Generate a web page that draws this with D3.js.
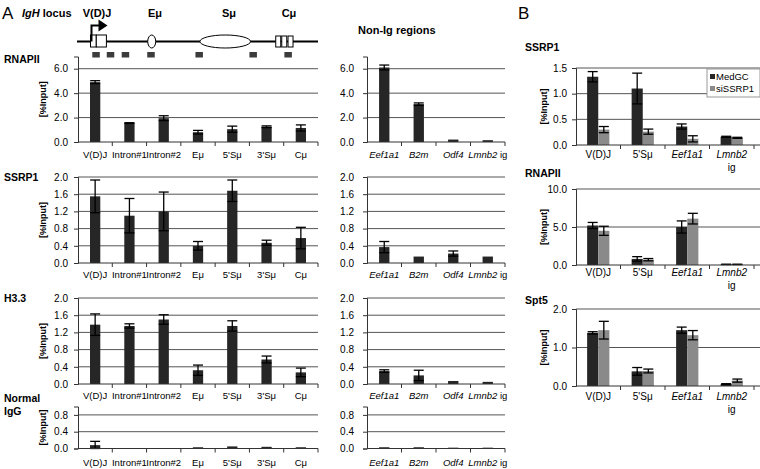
<!DOCTYPE html>
<html>
<head>
<meta charset="utf-8">
<script src="https://cdn.jsdelivr.net/npm/d3@7"></script>
<style>
  body { margin: 0; background: #fff; }
  svg { font-family: "Liberation Sans", Arial, sans-serif; }
</style>
</head>
<body>
<svg id="fig" width="760" height="469"></svg>
<script>
// --------------------
//  data
// --------------------
const locusCats = ["V(D)J", "Intron#1", "Intron#2", "Eμ", "5'Sμ", "3'Sμ", "Cμ"];
const nonIgCats = ["Eef1a1", "B2m", "Odf4", "Lmnb2 ig"];
const bCats = ["V(D)J", "5'Sμ", "Eef1a1", "Lmnb2 ig"];
const italicGenes = ["Eef1a1", "B2m", "Odf4", "Lmnb2"];

// panel A, IgH locus
const rnapiiLocus = [4.9, 1.55, 1.95, 0.8, 1.05, 1.25, 1.15];
const rnapiiLocusErr = [0.12, 0.03, 0.2, 0.15, 0.25, 0.07, 0.25];
const ssrp1Locus = [1.55, 1.1, 1.2, 0.4, 1.68, 0.47, 0.58];
const ssrp1LocusErr = [0.38, 0.4, 0.45, 0.1, 0.25, 0.06, 0.25];
const h33Locus = [1.38, 1.35, 1.5, 0.32, 1.35, 0.57, 0.27];
const h33LocusErr = [0.25, 0.05, 0.11, 0.12, 0.12, 0.08, 0.1];
const iggLocus = [0.08, 0.01, 0.01, 0.03, 0.05, 0.04, 0.03];
const iggLocusErr = [0.09, 0, 0, 0, 0, 0, 0];

// panel A, non-Ig regions
const rnapiiNonIg = [6.1, 3.1, 0.2, 0.15];
const rnapiiNonIgErr = [0.2, 0.1, 0, 0];
const ssrp1NonIg = [0.37, 0.15, 0.22, 0.15];
const ssrp1NonIgErr = [0.13, 0, 0.06, 0];
const h33NonIg = [0.3, 0.2, 0.07, 0.05];
const h33NonIgErr = [0.03, 0.12, 0, 0];
const iggNonIg = [0.03, 0.03, 0.02, 0.02];
const iggNonIgErr = [0, 0, 0, 0];

// panel B (MedGC vs siSSRP1)
const seriesNames = ["MedGC", "siSSRP1"];
const ssrp1Med = [1.33, 1.1, 0.36, 0.16];
const ssrp1MedErr = [0.1, 0.3, 0.05, 0.01];
const ssrp1Si = [0.3, 0.26, 0.12, 0.14];
const ssrp1SiErr = [0.06, 0.05, 0.06, 0.01];
const rnapiiMed = [5.2, 0.8, 5.0, 0.08];
const rnapiiMedErr = [0.4, 0.3, 0.8, 0.02];
const rnapiiSi = [4.5, 0.7, 6.1, 0.08];
const rnapiiSiErr = [0.6, 0.15, 0.7, 0.02];
const spt5Med = [1.38, 0.38, 1.45, 0.05];
const spt5MedErr = [0.03, 0.1, 0.08, 0.01];
const spt5Si = [1.45, 0.39, 1.32, 0.14];
const spt5SiErr = [0.23, 0.05, 0.12, 0.04];

// locus map (arbitrary kb-like coordinates)
const locusSpan = [0, 100];
const vdjBox = [5.6, 12.2];
const emuPos = 31;
const smuRange = [51, 72];
const cmuBoxes = [83.5, 86, 88.6];
const primerPos = [7.8, 13.8, 20, 30.6, 50.6, 73, 87.5];

// --------------------
//  styles
// --------------------
const dark = "#262626";
const light = "#8a8a8a";
const gridColor = "#555";
const axisColor = "#333";

const svg = d3.select("#fig");

// --------------------
//  functions
// --------------------
function catLabel(sel, name, wrap) {
    const parts = name.split(" ");
    sel.append("tspan")
        .attr("font-style", italicGenes.includes(parts[0]) ? "italic" : "normal")
        .text(parts[0]);
    if (parts[1]) {
        const t = sel.append("tspan").attr("font-style", "normal");
        if (wrap) t.attr("x", sel.attr("x")).attr("dy", "1.3em").text(parts[1]);
        else t.text(" " + parts[1]);
    }
}

function drawChart(o) {
    const g = svg.append("g");
    const x = d3.scaleBand().domain(o.cats).range(o.xRange)
        .paddingInner(o.padIn).paddingOuter(o.padOut);
    const y = d3.scaleLinear().domain([0, o.yMax]).range(o.yRange);
    const right = o.gridRight || o.xRange[1];

    // gridlines
    g.selectAll("line.grid")
        .data(o.ticks.filter(t => t > 0))
        .join("line")
        .attr("x1", o.xRange[0]).attr("x2", right)
        .attr("y1", d => y(d)).attr("y2", d => y(d))
        .attr("stroke", gridColor).attr("stroke-width", 1);

    // bars
    const nS = o.series.length;
    const sub = d3.scaleBand().domain(d3.range(nS)).range([0, x.bandwidth()]);
    o.series.forEach((s, si) => {
        g.selectAll(null)
            .data(o.cats)
            .join("rect")
            .attr("x", d => x(d) + sub(si))
            .attr("width", sub.bandwidth())
            .attr("y", (d, i) => y(s.vals[i]))
            .attr("height", (d, i) => y(0) - y(s.vals[i]))
            .attr("fill", s.color);
        // error bars
        const eb = g.selectAll(null)
            .data(o.cats.map((c, i) => ({ c, v: s.vals[i], e: s.errs[i] })).filter(d => d.e > 0))
            .join("g")
            .attr("transform", d => `translate(${x(d.c) + sub(si) + sub.bandwidth() / 2},0)`);
        eb.append("line")
            .attr("y1", d => y(d.v + d.e)).attr("y2", d => y(Math.max(0, d.v - d.e)))
            .attr("stroke", "#000").attr("stroke-width", 1.3);
        [1, -1].forEach(sg => {
            eb.append("line")
                .attr("x1", -o.cap).attr("x2", o.cap)
                .attr("y1", d => y(Math.max(0, d.v + sg * d.e)))
                .attr("y2", d => y(Math.max(0, d.v + sg * d.e)))
                .attr("stroke", "#000").attr("stroke-width", 1.3);
        });
    });

    // y axis
    const yAxis = g.append("g")
        .attr("transform", `translate(${o.xRange[0]},0)`)
        .call(d3.axisLeft(y).tickValues(o.ticks).tickFormat(d3.format(".1f")).tickSize(4).tickPadding(o.tickPad));
    yAxis.select(".domain").attr("stroke", axisColor);
    yAxis.selectAll(".tick line").attr("stroke", axisColor);
    yAxis.selectAll("text").attr("font-size", 10).attr("fill", "#000");

    // x axis line and boundary ticks
    g.append("line")
        .attr("x1", o.xRange[0]).attr("x2", right)
        .attr("y1", y(0)).attr("y2", y(0))
        .attr("stroke", axisColor);
    g.selectAll("line.xt")
        .data(o.cats)
        .join("line")
        .attr("x1", (d, i) => o.xRange[0] + x.step() * (i + 1))
        .attr("x2", (d, i) => o.xRange[0] + x.step() * (i + 1))
        .attr("y1", y(0)).attr("y2", y(0) + 4)
        .attr("stroke", axisColor);

    // category labels
    g.selectAll(null)
        .data(o.cats)
        .join("text")
        .attr("x", d => x(d) + x.bandwidth() / 2)
        .attr("y", o.labelY)
        .attr("text-anchor", "middle")
        .attr("font-size", o.labelSize || 9.5)
        .attr("fill", "#000")
        .each(function(d) { catLabel(d3.select(this), d, o.wrap); });

    // y title
    if (o.yTitleX) {
        svg.append("text")
            .attr("transform", `translate(${o.yTitleX},${(o.yRange[0] + o.yRange[1]) / 2}) rotate(-90)`)
            .attr("text-anchor", "middle")
            .attr("font-size", 9).attr("font-weight", "bold")
            .text("[%Input]");
    }
}

function title(x, y, lines, size) {
    const t = svg.append("text").attr("x", x).attr("y", y)
        .attr("font-size", size || 10.5).attr("font-weight", "bold");
    lines.forEach((l, i) => t.append("tspan").attr("x", x).attr("dy", i ? "1.25em" : 0).text(l));
}

// --------------------
//  locus diagram
// --------------------
const lx = d3.scaleLinear().domain(locusSpan).range([77, 318]);
const lineY = 41.5;
svg.append("line").attr("x1", lx(0)).attr("x2", lx(100)).attr("y1", lineY).attr("y2", lineY)
    .attr("stroke", "#000").attr("stroke-width", 2);
svg.append("rect").attr("x", lx(vdjBox[0])).attr("y", 35).attr("width", lx(vdjBox[0] + 2.4) - lx(vdjBox[0])).attr("height", 12)
    .attr("fill", "#fff").attr("stroke", "#000").attr("stroke-width", 1);
svg.append("rect").attr("x", lx(vdjBox[0] + 2.4)).attr("y", 35).attr("width", lx(vdjBox[1]) - lx(vdjBox[0] + 2.4)).attr("height", 12)
    .attr("fill", "#fff").attr("stroke", "#000").attr("stroke-width", 1);
// transcription start arrow
svg.append("path")
    .attr("d", `M${lx(vdjBox[0]) + 1},${lineY} V25.5 H${lx(vdjBox[0]) + 9}`)
    .attr("fill", "none").attr("stroke", "#000").attr("stroke-width", 2);
svg.append("path")
    .attr("d", `M${lx(vdjBox[0]) + 8},19.5 L${lx(vdjBox[0]) + 17},25.5 L${lx(vdjBox[0]) + 8},31.5 Z`)
    .attr("fill", "#000");
svg.append("ellipse").attr("cx", lx(emuPos)).attr("cy", lineY).attr("rx", 4).attr("ry", 6.5)
    .attr("fill", "#fff").attr("stroke", "#000");
svg.append("ellipse").attr("cx", lx((smuRange[0] + smuRange[1]) / 2)).attr("cy", lineY)
    .attr("rx", (lx(smuRange[1]) - lx(smuRange[0])) / 2).attr("ry", 6.5)
    .attr("fill", "#fff").attr("stroke", "#000");
svg.selectAll(null).data(cmuBoxes).join("rect")
    .attr("x", d => lx(d) - 2.5).attr("y", 36).attr("width", 5).attr("height", 11)
    .attr("fill", "#fff").attr("stroke", "#000");
svg.selectAll(null).data(primerPos).join("rect")
    .attr("x", d => lx(d) - 3.5).attr("y", 52).attr("width", 7.5).attr("height", 5.5)
    .attr("fill", "#3c3c3c");

svg.append("text").attr("x", 2).attr("y", 19).attr("font-size", 17).text("A");
const igh = svg.append("text").attr("x", 22).attr("y", 17).attr("font-size", 11).attr("font-weight", "bold");
igh.append("tspan").attr("font-style", "italic").text("IgH");
igh.append("tspan").text(" locus");
[["V(D)J", 97], ["Eμ", 155], ["Sμ", 229], ["Cμ", 289]].forEach(([t, cx]) =>
    svg.append("text").attr("x", cx).attr("y", 17).attr("text-anchor", "middle")
        .attr("font-size", 11).attr("font-weight", "bold").text(t));
svg.append("text").attr("x", 358).attr("y", 34).attr("font-size", 11).attr("font-weight", "bold").text("Non-Ig regions");
svg.append("text").attr("x", 518).attr("y", 19).attr("font-size", 17).text("B");

// --------------------
//  panel A charts
// --------------------
const rowsA = [
    { name: ["RNAPII"], ty: 63, locus: rnapiiLocus, locusErr: rnapiiLocusErr, non: rnapiiNonIg, nonErr: rnapiiNonIgErr,
      yMax: 7, ticks: [0, 2, 4, 6], yRange: [142, 56.5], labelY: 158 },
    { name: ["SSRP1"], ty: 181, locus: ssrp1Locus, locusErr: ssrp1LocusErr, non: ssrp1NonIg, nonErr: ssrp1NonIgErr,
      yMax: 2, ticks: [0, 0.4, 0.8, 1.2, 1.6, 2.0], yRange: [263, 177], labelY: 278 },
    { name: ["H3.3"], ty: 302, locus: h33Locus, locusErr: h33LocusErr, non: h33NonIg, nonErr: h33NonIgErr,
      yMax: 2, ticks: [0, 0.4, 0.8, 1.2, 1.6, 2.0], yRange: [384, 298], labelY: 399 },
    { name: ["Normal", "IgG"], ty: 402, locus: iggLocus, locusErr: iggLocusErr, non: iggNonIg, nonErr: iggNonIgErr,
      yMax: 1, ticks: [0, 0.4, 0.8], yRange: [448.5, 406.5], labelY: 466 }
];

rowsA.forEach(r => {
    title(4, r.ty, r.name);
    drawChart({ cats: locusCats, xRange: [78, 318], padIn: 0.7, padOut: 0.35, cap: 5,
        yMax: r.yMax, ticks: r.ticks, yRange: r.yRange, labelY: r.labelY, tickPad: 6, yTitleX: 46,
        series: [{ vals: r.locus, errs: r.locusErr, color: dark }] });
    drawChart({ cats: nonIgCats, xRange: [367, 505], padIn: 0.7, padOut: 0.35, cap: 5,
        yMax: r.yMax, ticks: r.ticks, yRange: r.yRange, labelY: r.labelY, tickPad: 9,
        series: [{ vals: r.non, errs: r.nonErr, color: dark }] });
});

// --------------------
//  panel B charts
// --------------------
const rowsB = [
    { name: "SSRP1", ty: 51, med: ssrp1Med, medErr: ssrp1MedErr, si: ssrp1Si, siErr: ssrp1SiErr,
      yMax: 1.5, ticks: [0, 0.5, 1.0, 1.5], yRange: [145, 68], labelY: 158 },
    { name: "RNAPII", ty: 177, med: rnapiiMed, medErr: rnapiiMedErr, si: rnapiiSi, siErr: rnapiiSiErr,
      yMax: 10, ticks: [0, 5, 10], yRange: [265, 189], labelY: 276 },
    { name: "Spt5", ty: 304, med: spt5Med, medErr: spt5MedErr, si: spt5Si, siErr: spt5SiErr,
      yMax: 2, ticks: [0, 1, 2], yRange: [386, 309], labelY: 400 }
];

rowsB.forEach(r => {
    title(525, r.ty, [r.name]);
    drawChart({ cats: bCats, xRange: [576, 754], gridRight: 760, padIn: 0.5, padOut: 0.25, cap: 5,
        yMax: r.yMax, ticks: r.ticks, yRange: r.yRange, labelY: r.labelY, tickPad: 5, yTitleX: 547,
        wrap: true, labelSize: 10,
        series: [{ vals: r.med, errs: r.medErr, color: dark }, { vals: r.si, errs: r.siErr, color: light }] });
});

// legend
const leg = svg.append("g").attr("transform", "translate(707,69)");
leg.append("rect").attr("width", 53).attr("height", 28).attr("fill", "#fff").attr("stroke", "#999");
leg.selectAll(null).data(seriesNames).join("rect")
    .attr("x", 3).attr("y", (d, i) => 5 + i * 12).attr("width", 5).attr("height", 5)
    .attr("fill", (d, i) => i ? light : dark);
leg.selectAll(null).data(seriesNames).join("text")
    .attr("x", 9).attr("y", (d, i) => 10.5 + i * 12)
    .attr("font-size", 9.5).text(d => d);
</script>
</body>
</html>
